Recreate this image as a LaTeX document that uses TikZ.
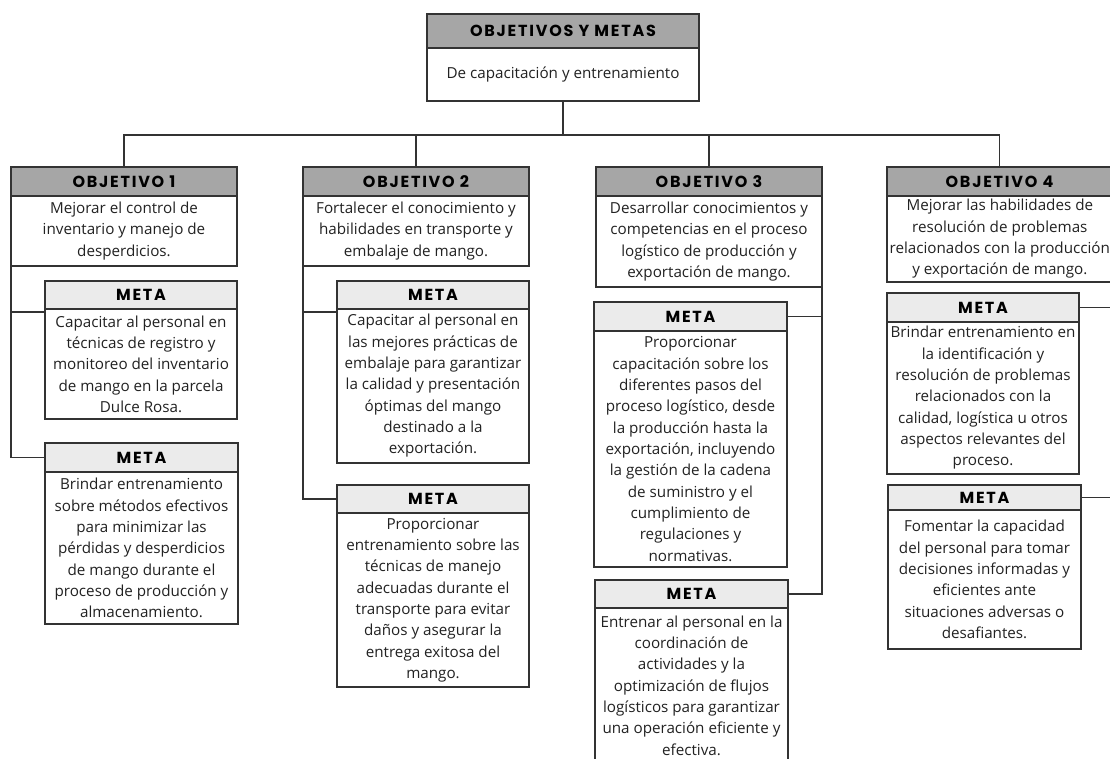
\documentclass[tikz,border=0pt]{standalone}
\usepackage{fontspec}
\setmainfont{Open Sans}
\newfontfamily\hdrfont{Poppins}[LetterSpace=11]
\definecolor{objfill}{HTML}{A6A6A6}
\definecolor{metafill}{HTML}{EBEBEB}
\definecolor{edge}{HTML}{333333}
\definecolor{ink}{HTML}{222222}

\tikzset{
  hdr/.style={draw=edge, line width=1.1pt, inner sep=0pt, outer sep=0pt,
    anchor=north west, text=black,
    font=\hdrfont\bfseries\fontsize{12}{14}\selectfont},
  bodybox/.style={draw=edge, line width=1.1pt, fill=white, inner sep=2pt,
    outer sep=0pt, anchor=north west, align=center, text=ink,
    font=\fontsize{11.4}{16}\selectfont},
  link/.style={draw=edge, line width=1pt},
}

% titled box: name, left, top, header bottom, right, bottom, fill, title, text
\newcommand{\twopart}[9]{%
  \pgfmathsetlengthmacro\bw{(#5-#2)*0.75pt}%
  \pgfmathsetlengthmacro\hh{(#4-#3)*0.75pt}%
  \pgfmathsetlengthmacro\bh{(#6-#4)*0.75pt}%
  \node[bodybox, minimum width=\bw, minimum height=\bh] (#1) at (#2,#4) {#9};
  \node[hdr, fill=#7, minimum width=\bw, minimum height=\hh] (#1h) at (#2,#3) {#8};
}

\begin{document}
\begin{tikzpicture}[x=0.75pt, y=-0.75pt]
\useasboundingbox (0,0) rectangle (1110,759);

\twopart{top}{427}{14}{48}{699}{101}{objfill}{OBJETIVOS Y METAS}{De capacitación y entrenamiento}

\twopart{o1}{11}{167}{196}{237}{266}{objfill}{OBJETIVO 1}{Mejorar el control de\\inventario y manejo de\\desperdicios.}
\twopart{o2}{303}{167}{196}{529}{266}{objfill}{OBJETIVO 2}{Fortalecer el conocimiento y\\habilidades en transporte y\\embalaje de mango.}
\twopart{o3}{596}{167}{196}{822}{287}{objfill}{OBJETIVO 3}{Desarrollar conocimientos y\\competencias en el proceso\\logístico de producción y\\exportación de mango.}
\twopart{o4}{887}{167}{196}{1112}{282}{objfill}{OBJETIVO 4}{Mejorar las habilidades de\\resolución de problemas\\relacionados con la producción\\y exportación de mango.}

\twopart{m1a}{45}{281}{309}{237}{419}{metafill}{META}{Capacitar al personal en\\técnicas de registro y\\monitoreo del inventario\\de mango en la parcela\\Dulce Rosa.}
\twopart{m1b}{45}{443}{472}{238}{624}{metafill}{META}{Brindar entrenamiento\\sobre métodos efectivos\\para minimizar las\\pérdidas y desperdicios\\de mango durante el\\proceso de producción y\\almacenamiento.}

\twopart{m2a}{337}{281}{309}{529}{463}{metafill}{META}{Capacitar al personal en\\las mejores prácticas de\\embalaje para garantizar\\la calidad y presentación\\óptimas del mango\\destinado a la\\exportación.}
\twopart{m2b}{337}{485}{513}{529}{687}{metafill}{META}{Proporcionar\\entrenamiento sobre las\\técnicas de manejo\\adecuadas durante el\\transporte para evitar\\daños y asegurar la\\entrega exitosa del\\mango.}

\twopart{m3a}{594}{302}{331}{787}{567}{metafill}{META}{Proporcionar\\capacitación sobre los\\diferentes pasos del\\proceso logístico, desde\\la producción hasta la\\exportación, incluyendo\\la gestión de la cadena\\de suministro y el\\cumplimiento de\\regulaciones y\\normativas.}
\twopart{m3b}{595}{580}{608}{788}{763}{metafill}{META}{Entrenar al personal en la\\coordinación de\\actividades y la\\optimización de flujos\\logísticos para garantizar\\una operación eficiente y\\efectiva.}

\twopart{m4a}{887}{293}{322}{1079}{474}{metafill}{META}{Brindar entrenamiento en\\la identificación y\\resolución de problemas\\relacionados con la\\calidad, logística u otros\\aspectos relevantes del\\proceso.}
\twopart{m4b}{888}{485}{510}{1081}{649}{metafill}{META}{Fomentar la capacidad\\del personal para tomar\\decisiones informadas y\\eficientes ante\\situaciones adversas o\\desafiantes.}

% main bus from the title box to the four objectives
\coordinate (bus) at (563,135);
\draw[link] (top.south) -- (bus);
\draw[link] (o1h.north) -- (o1h.north |- bus) -- (o4h.north |- bus) -- (o4h.north);
\draw[link] (o2h.north) -- (o2h.north |- bus);
\draw[link] (o3h.north) -- (o3h.north |- bus);

% each objective to its goals
\draw[link] (o1.south west) |- ([yshift=-2.25pt]m1ah.south west);
\draw[link] (o1.south west) |- (m1bh.west);
\draw[link] (o2.south west) |- ([yshift=-2.25pt]m2ah.south west);
\draw[link] (o2.south west) |- (m2bh.west);
\draw[link] (o3.south east) |- (m3ah.east);
\draw[link] (o3.south east) |- (m3bh.east);
\draw[link] (o4.south east) |- (m4ah.east);
\draw[link] (o4.south east) |- (m4bh.east);
\end{tikzpicture}
\end{document}
